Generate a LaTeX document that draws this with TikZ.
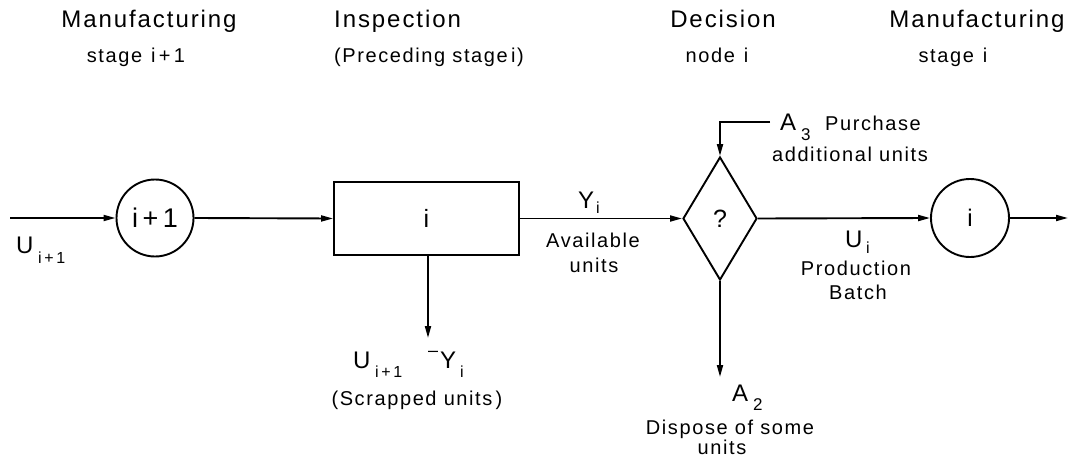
\documentclass[tikz,border=0pt]{standalone}
\usepackage{fontspec}
\setmainfont{Liberation Sans}[LetterSpace=8]
\usetikzlibrary{arrows.meta,shapes.geometric}
\newcommand\fs[1]{\fontsize{#1}{#1}\selectfont}
\begin{document}
\begin{tikzpicture}[x=1pt,y=-1pt,
  arr/.style={line width=1.9pt,-{Triangle[length=12pt,width=6pt]}},
  box/.style={draw,line width=1.9pt,inner sep=0pt},
  ttl/.style={font=\fs{24},inner sep=0pt,anchor=base},
  lab/.style={font=\fs{20},inner sep=0pt,anchor=base},
  sym/.style={font=\fs{24},inner sep=0pt,anchor=base west},
  ssub/.style={font=\fs{16},inner sep=0pt,anchor=base west}]
\useasboundingbox (0,0) rectangle (1085,460);

% headings
\node[ttl] (t1) at (149,28) {Manufacturing};
\node[lab] (s1) at (136,63) {stage\hspace{9pt}i\,+\,1};
\node[ttl,anchor=base west] (t2) at (334,28) {Inspection};
\node[lab,anchor=base west] (s2) at (334,63) {(Preceding stage\,i)};
\node[ttl] (t3) at (723,28) {Decision};
\node[lab] (s3) at (717,63) {node\hspace{9pt}i};
\node[ttl] (t4) at (977,28) {Manufacturing};
\node[lab] (s4) at (953,63) {stage\hspace{9pt}i};

% blocks
\node[box,circle,minimum size=77pt] (c1) at (155,218) {\fs{27}i\,+\,1};
\node[box,minimum width=185pt,minimum height=73pt] (r) at (426.5,218.5) {\fs{25}i};
\node[box,diamond,aspect=0.6,minimum width=74pt,minimum height=123pt] (d) at (720,218.5) {\fs{25}?};
\node[box,circle,minimum size=78pt] (c2) at (970,218) {\fs{24}i};

% connectors
\coordinate (in) at (10,218);
\coordinate (out) at (1068,218);
\coordinate (scrap) at (428,338);
\coordinate (dispose) at (720,377);
\coordinate (purch) at (770,122);
\draw[arr] (in) -- (c1.west);
\draw[arr] (c1.east) -- (r.west);
\draw[arr] (r.east) -- (d.west);
\draw[arr] (d.east) -- (c2.west);
\draw[arr] (c2.east) -- (out);
\draw[arr] (r.south -| scrap) -- (scrap);
\draw[arr] (d.south) -- (dispose);
\draw[arr] (purch) -| (d.north);

% labels
\node[sym] (u1) at (16,253) {U};
\node[ssub] (u1s) at (38,263) {i\,+\,1};

\node[sym] (y) at (578,208) {Y};
\node[ssub] (ys) at (596,213) {i};
\node[lab] (av1) at (593,247) {Available};
\node[lab] (av2) at (594,272) {units};

\node[sym] (a3) at (780,130) {A};
\node[ssub,font=\fs{17}] (a3s) at (801,140) {3};
\node[lab,anchor=base west] (pu1) at (825,130) {Purchase};
\node[lab] (pu2) at (850,161) {additional units};

\node[sym] (ui) at (845,247) {U};
\node[ssub] (uis) at (866,253) {i};
\node[lab] (pb1) at (856,275) {Production};
\node[lab] (pb2) at (858,299) {Batch};

\node[sym] (su) at (353,368) {U};
\node[ssub] (sus) at (375,377) {i\,+\,1};
\node[inner sep=0pt,anchor=base west,font=\fs{18}] (minus) at (428,356) {–};
\node[sym] (sy) at (440,368) {Y};
\node[ssub] (sys) at (460,377) {i};
\node[lab] (sc) at (417,405) {(Scrapped units\,)};

\node[sym] (a2) at (732,401) {A};
\node[ssub,font=\fs{17}] (a2s) at (753,410) {2};
\node[lab] (ds1) at (730,434) {Dispose of some};
\node[lab] (ds2) at (722,454) {units};
\end{tikzpicture}
\end{document}
